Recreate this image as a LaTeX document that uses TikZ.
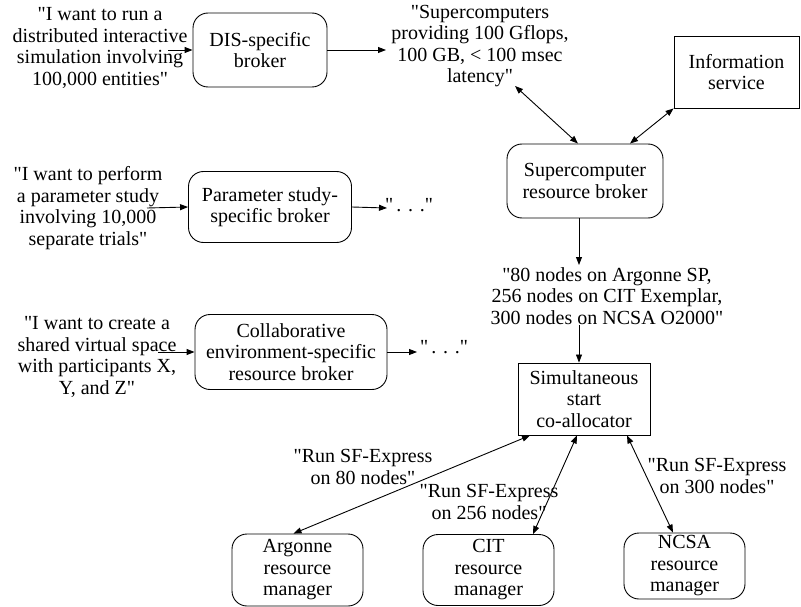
\documentclass[tikz,border=0pt]{standalone}
\usepackage{fontspec}
\setmainfont[Ligatures=TeXOff]{Liberation Serif}
\usetikzlibrary{arrows.meta,calc}
\begin{document}
\begin{tikzpicture}[x=1pt,y=-1pt,
  every node/.style={font=\fontsize{20}{21.5}\selectfont, align=center, inner sep=0pt},
  rbox/.style={draw, line width=0.9pt, rounded corners=15pt},
  sbox/.style={draw, line width=0.9pt},
  conn/.style={line width=0.9pt, -{Triangle[length=8pt,width=6pt]}},
  bconn/.style={line width=0.9pt, {Triangle[length=8pt,width=6pt]}-{Triangle[length=8pt,width=6pt]}}
]
\useasboundingbox (0,0) rectangle (801,607);

% requests
\node (t1) at (100,48) {"I want to run a\\distributed interactive\\simulation involving\\100,000 entities"};
\node (t2) at (88,208) {"I want to perform\\a parameter study\\involving 10,000\\separate trials"};
\node (t3) at (97,357) {"I want to create a\\shared virtual space\\with participants X,\\Y, and Z"};

% brokers
\node[rbox, minimum width=134pt, minimum height=74pt] (dis) at (260,50) {DIS-specific\\broker};
\node[rbox, minimum width=163pt, minimum height=71pt] (psb) at (270,207) {Parameter study-\\specific broker};
\node[rbox, minimum width=192pt, minimum height=75pt] (ceb) at (291,352) {Collaborative\\environment-specific\\resource broker};

\node (sup) at (480,46) {"Supercomputers\\providing 100 Gflops,\\100 GB, < 100 msec\\latency"};
\node (d2) at (409,205) {"\,.\,\,.\,\,."};
\node (d3) at (444,347) {"\,.\,\,.\,\,."};

\node[sbox, minimum width=125pt, minimum height=72pt] (info) at (736.5,72) {Information\\service};
\node[rbox, minimum width=156pt, minimum height=74pt] (scb) at (585,181) {Supercomputer\\resource broker};

\node (nodes) at (607,296) {"80 nodes on Argonne SP,\\256 nodes on CIT Exemplar,\\300 nodes on NCSA O2000"};

\node[sbox, minimum width=132pt, minimum height=72pt] (co) at (584,399) {Simultaneous\\start\\co-allocator};

\node (l1) at (363,467) {"Run SF-Express\\on 80 nodes"};
\node (l2) at (489,502) {"Run SF-Express\\on 256 nodes"};
\node (l3) at (717,476) {"Run SF-Express\\on 300 nodes"};

\node[rbox, minimum width=131pt, minimum height=72pt] (arg) at (297.5,570) {Argonne\\resource\\manager};
\node[rbox, minimum width=131pt, minimum height=71pt] (cit) at (488.5,570) {CIT\\resource\\manager};
\node[rbox, minimum width=121pt, minimum height=66pt] (ncsa) at (684.5,566) {NCSA\\resource\\manager};

% free ends
\coordinate (a1) at (168,50);
\coordinate (a2) at (386,50);
\coordinate (b1) at (147,208);
\coordinate (b2) at (387,208);
\coordinate (c1) at (158,352);
\coordinate (c2) at (417,352);
\coordinate (s1) at (515,86);
\coordinate (n1) at (579,265);
\coordinate (n2) at (579,325);

% connectors
\draw[conn] (a1) -- (dis.west);
\draw[conn] (dis.east) -- (a2);
\draw[conn] (b1) -- (psb.west);
\draw[conn] (psb.east) -- (b2);
\draw[conn] (c1) -- (ceb.west);
\draw[conn] (ceb.east) -- (c2);
\draw[bconn] (s1) -- ([xshift=-7pt]scb.north);
\draw[bconn] ([xshift=45pt]scb.north) -- (info.south west);
\draw[conn] ([xshift=-6pt]scb.south) -- (n1);
\draw[line width=0.6pt, -{Triangle[length=8pt,width=6pt]}] (n2) -- ([xshift=-5pt]co.north);
\draw[bconn] ([xshift=-54pt]co.south) -- ([xshift=-4pt]arg.north);
\draw[bconn] ([xshift=-7pt]co.south) -- ([xshift=44.5pt]cit.north);
\draw[bconn] ([xshift=43pt]co.south) -- ([xshift=-11.5pt]ncsa.north);
\end{tikzpicture}
\end{document}
